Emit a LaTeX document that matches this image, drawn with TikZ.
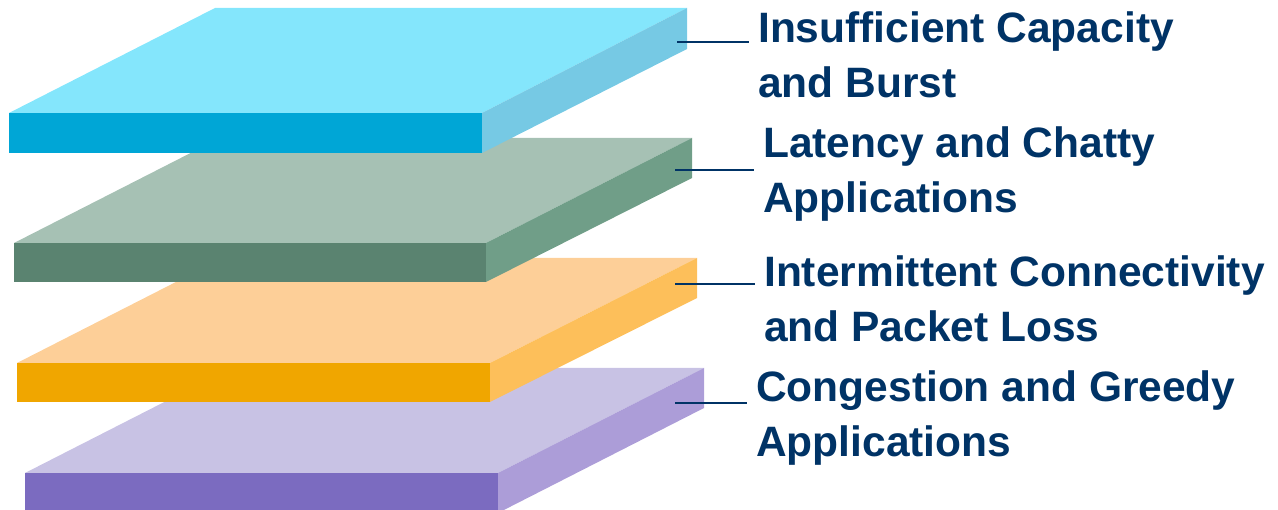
\documentclass[tikz,border=0pt]{standalone}
\usepackage{fontspec}
\setmainfont{Liberation Sans}
\definecolor{navy}{RGB}{0,51,102}
\definecolor{blueTop}{RGB}{132,230,252}
\definecolor{blueFront}{RGB}{0,166,214}
\definecolor{blueSide}{RGB}{118,201,228}
\definecolor{greenTop}{RGB}{166,193,180}
\definecolor{greenFront}{RGB}{90,131,112}
\definecolor{greenSide}{RGB}{112,158,136}
\definecolor{orangeTop}{RGB}{253,207,152}
\definecolor{orangeFront}{RGB}{240,166,0}
\definecolor{orangeSide}{RGB}{253,191,90}
\definecolor{purpleTop}{RGB}{200,194,228}
\definecolor{purpleFront}{RGB}{123,107,192}
\definecolor{purpleSide}{RGB}{172,157,216}

\begin{document}
\begin{tikzpicture}[x=1pt, y=-1pt]

\tikzstyle{label}=[anchor=base west, align=left, inner sep=0pt, text=navy, font=\bfseries\fontsize{42.5}{55}\selectfont]
\tikzstyle{leader}=[draw=navy, line width=2pt, shorten >=9pt]

\useasboundingbox (0,0) rectangle (1278,510);

% purple slab
\fill[purpleTop] (25,473) -- (231,368) -- (704,368) -- (498,473) -- cycle;
\fill[purpleFront] (25,473) rectangle (498,513);
\fill[purpleSide] (498,473) -- (704,368) -- (704,408) -- (498,513) -- cycle;

% orange slab
\fill[orangeTop] (17,363) -- (223,258) -- (697,258) -- (490,363) -- cycle;
\fill[orangeFront] (17,363) rectangle (490,402);
\fill[orangeSide] (490,363) -- (697,258) -- (697,298) -- (490,402) -- cycle;

% green slab
\fill[greenTop] (14,243) -- (220,138) -- (692,138) -- (486,243) -- cycle;
\fill[greenFront] (14,243) rectangle (486,282);
\fill[greenSide] (486,243) -- (692,138) -- (692,178) -- (486,282) -- cycle;

% blue slab
\fill[blueTop] (9,113) -- (215,8) -- (687,8) -- (482,113) -- cycle;
\fill[blueFront] (9,113) rectangle (482,153);
\fill[blueSide] (482,113) -- (687,8) -- (687,49) -- (482,153) -- cycle;

% labels (anchored at the baseline of their last line)
\node[label] (label1) at (758,98) {Insufficient Capacity\\and Burst};
\node[label] (label2) at (763,213) {Latency and Chatty\\Applications};
\node[label] (label3) at (764,342) {Intermittent Connectivity\\and Packet Loss};
\node[label] (label4) at (756,457) {Congestion and Greedy\\Applications};

\coordinate (side1) at (677,42);
\coordinate (side2) at (675,170);
\coordinate (side3) at (675,284);
\coordinate (side4) at (675,403);

\draw[leader] (side1) -- (side1 -| label1.west);
\draw[leader] (side2) -- (side2 -| label2.west);
\draw[leader] (side3) -- (side3 -| label3.west);
\draw[leader] (side4) -- (side4 -| label4.west);

\end{tikzpicture}
\end{document}
